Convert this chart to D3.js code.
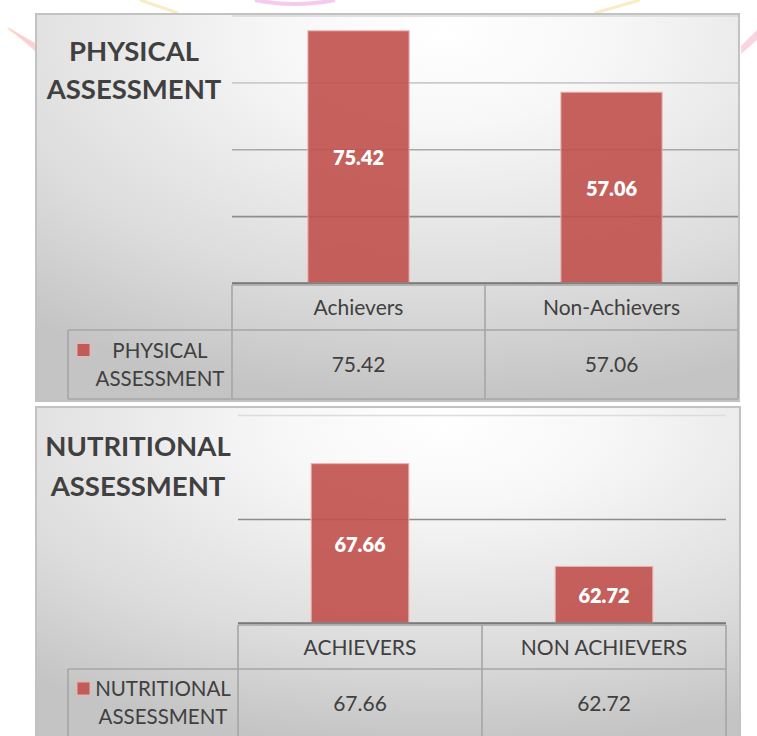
<!DOCTYPE html>
<html>
<head>
<meta charset="utf-8">
<script src="https://cdn.jsdelivr.net/npm/d3@7"></script>
<style>
  html, body { margin: 0; padding: 0; background: #ffffff; }
  svg { display: block; }
</style>
</head>
<body>
<svg id="chart" width="757" height="736"></svg>
<script>
// ---- data ----
const physicalTitle = ["PHYSICAL", "ASSESSMENT"];
const physicalCategories = ["Achievers", "Non-Achievers"];
const physicalValues = [75.42, 57.06];
const physicalTicks = [0, 20, 40, 60, 80];
const physicalSeriesName = ["PHYSICAL", "ASSESSMENT"];

const nutritionalTitle = ["NUTRITIONAL", "ASSESSMENT"];
const nutritionalCategories = ["ACHIEVERS", "NON ACHIEVERS"];
const nutritionalValues = [67.66, 62.72];
const nutritionalTicks = [60, 65, 70];
const nutritionalSeriesName = ["NUTRITIONAL", "ASSESSMENT"];

// ---- styling ----
const FONT = "Lato, 'Open Sans', 'Noto Sans', sans-serif";
const TEXT = "#404040";
const BAR_FILL = "rgba(192,80,77,0.9)";
const BAR_EDGE = "#e9b3b1";
const TABLE_LINE = "#a6a6a6";

const svg = d3.select("#chart");
const defs = svg.append("defs");

// faint decorative strokes of the page behind the charts
const deco = svg.append("g").attr("class", "page-decoration");
deco.append("path").attr("d", "M6,26 L37,44 L36,52 Z").attr("fill", "#f6b8cc").attr("opacity", 0.6);
deco.append("path").attr("d", "M8,29 L36,47").attr("stroke", "#f3d27a").attr("stroke-width", 1.2).attr("opacity", 0.5);
deco.append("path").attr("d", "M757,30 L741,46 L741,54 L757,40 Z").attr("fill", "#f6b8cc").attr("opacity", 0.6);
deco.append("path").attr("d", "M255,0 Q295,8 335,0").attr("stroke", "#e88ad8").attr("stroke-width", 4).attr("fill", "none").attr("opacity", 0.45);
deco.append("path").attr("d", "M140,0 L178,13").attr("stroke", "#f5dc8c").attr("stroke-width", 3).attr("opacity", 0.5);
deco.append("path").attr("d", "M595,13 L640,0").attr("stroke", "#f5dc8c").attr("stroke-width", 3).attr("opacity", 0.5);

function drawPanel(cfg) {
  const { box, plot, table, title, categories, values, ticks, seriesName, gridShade } = cfg;
  const g = svg.append("g").attr("class", cfg.id);

  const gradId = cfg.id + "-bg";
  const grad = defs.append("radialGradient")
    .attr("id", gradId)
    .attr("gradientUnits", "objectBoundingBox")
    .attr("cx", 0.58).attr("cy", 0.05).attr("r", 0.95)
    .attr("fx", 0.58).attr("fy", 0.05);
  grad.append("stop").attr("offset", 0).attr("stop-color", "#ffffff");
  grad.append("stop").attr("offset", 0.25).attr("stop-color", "#f7f7f7");
  grad.append("stop").attr("offset", 0.7).attr("stop-color", "#dcdcdc");
  grad.append("stop").attr("offset", 1).attr("stop-color", "#c4c4c4");

  g.append("rect")
    .attr("x", box.x).attr("y", box.y)
    .attr("width", box.w).attr("height", box.h)
    .attr("fill", `url(#${gradId})`)
    .attr("stroke", "#c2c2c2").attr("stroke-width", 2);

  // scales
  const x = d3.scaleBand().domain(categories).range([plot.left, plot.right]).padding(0);
  const y = d3.scaleLinear().domain(d3.extent(ticks)).range([plot.bottom, plot.top]);
  const barW = x.bandwidth() * 0.4;

  // gridlines
  const grid = g.append("g")
    .attr("transform", `translate(${plot.left},0)`)
    .call(d3.axisLeft(y).tickValues(ticks).tickSize(-(plot.right - plot.left)).tickFormat(""));
  grid.select(".domain").remove();
  grid.selectAll(".tick line")
    .attr("stroke", (d, i) => gridShade[i])
    .attr("stroke-width", 1.6);

  // bars
  g.append("g").selectAll("rect")
    .data(categories.map((c, i) => ({ c, v: values[i] })))
    .join("rect")
    .attr("x", d => x(d.c) + (x.bandwidth() - barW) / 2)
    .attr("y", d => y(d.v))
    .attr("width", barW)
    .attr("height", d => y(ticks[0]) - y(d.v))
    .attr("fill", BAR_FILL)
    .attr("stroke", BAR_EDGE).attr("stroke-width", 1);

  // value labels centred in each bar
  g.append("g").selectAll("text")
    .data(categories.map((c, i) => ({ c, v: values[i] })))
    .join("text")
    .attr("x", d => x(d.c) + x.bandwidth() / 2)
    .attr("y", d => (y(d.v) + y(ticks[0])) / 2)
    .attr("dy", "0.42em")
    .attr("text-anchor", "middle")
    .attr("font-family", FONT).attr("font-weight", 800).attr("font-size", 20)
    .attr("fill", "#ffffff")
    .text(d => d.v.toFixed(2));

  // baseline of the value axis
  g.append("line")
    .attr("x1", plot.left).attr("x2", plot.right)
    .attr("y1", plot.bottom).attr("y2", plot.bottom)
    .attr("stroke", "#7a7a7a").attr("stroke-width", 1.6);

  // data table
  const t = g.append("g").attr("class", "data-table");
  const line = (x1, y1, x2, y2) => t.append("line")
    .attr("x1", x1).attr("y1", y1).attr("x2", x2).attr("y2", y2)
    .attr("stroke", TABLE_LINE).attr("stroke-width", 1.6);
  const top = plot.bottom + 2;
  line(plot.left, top, plot.right, top);
  line(table.legendLeft, table.headerBottom, plot.right, table.headerBottom);
  line(table.legendLeft, table.bottom, plot.right, table.bottom);
  line(table.legendLeft, table.headerBottom, table.legendLeft, table.bottom);
  const edges = [plot.left, ...categories.slice(1).map(c => x(c)), plot.right];
  edges.forEach(ex => line(ex, top, ex, table.bottom));

  const headerMid = (top + table.headerBottom) / 2;
  const valueMid = (table.headerBottom + table.bottom) / 2;

  t.selectAll("text.cat")
    .data(categories)
    .join("text").attr("class", "cat")
    .attr("x", c => x(c) + x.bandwidth() / 2)
    .attr("y", headerMid).attr("dy", "0.36em")
    .attr("text-anchor", "middle")
    .attr("font-family", FONT).attr("font-size", 21).attr("fill", TEXT)
    .text(c => c);

  t.selectAll("text.val")
    .data(values)
    .join("text").attr("class", "val")
    .attr("x", (v, i) => x(categories[i]) + x.bandwidth() / 2)
    .attr("y", valueMid).attr("dy", "0.36em")
    .attr("text-anchor", "middle")
    .attr("font-family", FONT).attr("font-size", 21).attr("fill", TEXT)
    .text(v => v.toFixed(2));

  // legend key cell
  const legendCx = (table.legendLeft + plot.left) / 2 + 10;
  const lineGap = 28;
  const firstBase = valueMid - lineGap / 2 + 7;
  t.append("rect")
    .attr("x", table.legendLeft + 9).attr("y", firstBase - 14)
    .attr("width", 13).attr("height", 13)
    .attr("fill", BAR_FILL).attr("stroke", BAR_EDGE).attr("stroke-width", 1);
  t.selectAll("text.leg")
    .data(seriesName)
    .join("text").attr("class", "leg")
    .attr("x", legendCx)
    .attr("y", (s, i) => firstBase + i * lineGap)
    .attr("text-anchor", "middle")
    .attr("font-family", FONT).attr("font-size", 20.5).attr("fill", TEXT)
    .text(s => s);

  // chart title
  g.append("g").selectAll("text")
    .data(title)
    .join("text")
    .attr("x", cfg.titleX)
    .attr("y", (s, i) => cfg.titleY + i * cfg.titleGap)
    .attr("text-anchor", "middle")
    .attr("font-family", FONT).attr("font-weight", 700).attr("font-size", 27.5)
    .attr("fill", TEXT)
    .text(s => s);
}

drawPanel({
  id: "physical",
  box: { x: 36, y: 14, w: 703, h: 387 },
  plot: { left: 232, right: 738, top: 15.5, bottom: 283 },
  table: { legendLeft: 68, headerBottom: 330, bottom: 399 },
  title: physicalTitle,
  titleX: 134, titleY: 61, titleGap: 38,
  categories: physicalCategories,
  values: physicalValues,
  ticks: physicalTicks,
  seriesName: physicalSeriesName,
  gridShade: ["#7a7a7a", "#8e8e8e", "#a8a8a8", "#cbcbcb", "#d8d8d8"]
});

drawPanel({
  id: "nutritional",
  box: { x: 36, y: 407, w: 704, h: 340 },
  plot: { left: 238, right: 726, top: 415, bottom: 623 },
  table: { legendLeft: 68, headerBottom: 669, bottom: 737 },
  title: nutritionalTitle,
  titleX: 138, titleY: 456, titleGap: 40,
  categories: nutritionalCategories,
  values: nutritionalValues,
  ticks: nutritionalTicks,
  seriesName: nutritionalSeriesName,
  gridShade: ["#7a7a7a", "#8c8c8c", "#dcdcdc"]
});
</script>
</body>
</html>
